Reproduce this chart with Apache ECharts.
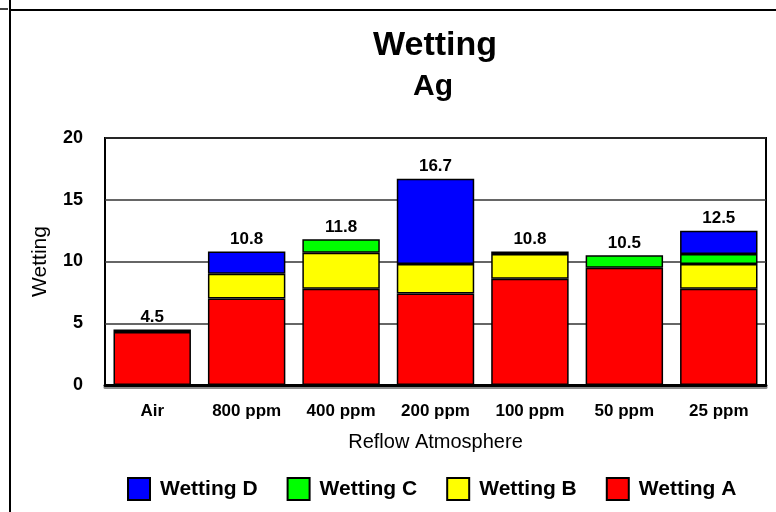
<!DOCTYPE html>
<html>
<head>
<meta charset="utf-8">
<script src="https://cdn.jsdelivr.net/npm/echarts@6/dist/echarts.min.js"></script>
<style>
  html, body { margin: 0; padding: 0; background: #fff; }
  #chart { width: 776px; height: 512px; }
</style>
</head>
<body>
<div id="chart"></div>
<script>
// Reflow atmospheres on the category axis
const categories = ['Air', '800 ppm', '400 ppm', '200 ppm', '100 ppm', '50 ppm', '25 ppm'];

// Stacked wetting components (bottom to top)
const wettingA = [4.3, 7.0, 7.8, 7.4, 8.6, 9.5, 7.8];
const wettingB = [0.2, 2.0, 2.9, 2.4, 2.0, 0, 2.0];
const wettingC = [0, 0, 1.1, 0, 0.2, 1.0, 0.8];
const wettingD = [0, 1.8, 0, 6.9, 0, 0, 1.9];

// Value axis ticks
const yTicks = [0, 5, 10, 15, 20];

const seriesNames = ['Wetting A', 'Wetting B', 'Wetting C', 'Wetting D'];
const seriesColors = ['#ff0000', '#ffff00', '#00ff00', '#0000ff'];
const seriesValues = [wettingA, wettingB, wettingC, wettingD];

// Stack totals shown above each bar
const totals = categories.map((_, i) =>
  Math.round(seriesValues.reduce((s, arr) => s + arr[i], 0) * 10) / 10
);

const chart = echarts.init(document.getElementById('chart'), null, { renderer: 'canvas' });

const barSeries = seriesNames.map((name, k) => ({
  name: name,
  type: 'bar',
  stack: 'wetting',
  barCategoryGap: '18%',
  itemStyle: { color: seriesColors[k], borderColor: '#000', borderWidth: 1.5 },
  data: seriesValues[k].map(v => (v === 0 ? '-' : v))
}));

chart.setOption({
  animation: false,
  backgroundColor: '#fff',
  grid: {
    left: 105, right: 10, top: 138, bottom: 127,
    show: true, borderColor: '#000', borderWidth: 2, backgroundColor: 'transparent'
  },
  legend: {
    data: ['Wetting D', 'Wetting C', 'Wetting B', 'Wetting A'],
    left: 122, top: 472,
    icon: 'rect',
    itemWidth: 22, itemHeight: 22, itemGap: 29,
    textStyle: { fontFamily: 'Liberation Sans, Arial', fontWeight: 'bold', fontSize: 21, color: '#000', padding: [0, 0, 0, 5] }
  },
  xAxis: {
    type: 'category',
    data: categories,
    name: 'Reflow Atmosphere',
    nameLocation: 'middle',
    nameGap: 47,
    nameTextStyle: { fontFamily: 'Liberation Sans, Arial', fontSize: 20, color: '#000' },
    axisLine: { lineStyle: { color: '#000', width: 3, shadowColor: 'rgba(0,0,0,0.45)', shadowOffsetY: 2 } },
    axisTick: { show: false },
    axisLabel: { fontFamily: 'Liberation Sans, Arial', fontWeight: 'bold', fontSize: 17, color: '#000', margin: 18 }
  },
  yAxis: {
    type: 'value',
    min: yTicks[0], max: yTicks[yTicks.length - 1], interval: yTicks[1] - yTicks[0],
    name: 'Wetting',
    nameLocation: 'middle',
    nameGap: 54,
    nameTextStyle: { fontFamily: 'Liberation Sans, Arial', fontSize: 21, color: '#000' },
    axisLine: { show: false },
    axisTick: { show: false },
    axisLabel: { fontFamily: 'Liberation Sans, Arial', fontWeight: 'bold', fontSize: 18, color: '#000', margin: 22 },
    splitLine: { lineStyle: { color: '#333', width: 1.5 } }
  },
  series: barSeries.concat([{
    name: 'Total',
    type: 'scatter',
    data: totals.map((v, i) => [categories[i], v]),
    symbolSize: 1,
    itemStyle: { color: 'rgba(0,0,0,0)', opacity: 1 },
    silent: true,
    z: 5,
    label: {
      show: true, position: 'top', distance: 3,
      formatter: p => totals[p.dataIndex].toFixed(1),
      fontFamily: 'Liberation Sans, Arial', fontWeight: 'bold', fontSize: 17, color: '#000'
    }
  }]),
  graphic: [
    { type: 'line', shape: { x1: 10, y1: 0, x2: 10, y2: 512 }, style: { stroke: '#000', lineWidth: 2 } },
    { type: 'line', shape: { x1: 10, y1: 10, x2: 776, y2: 10 }, style: { stroke: '#000', lineWidth: 2 } },
    { type: 'line', shape: { x1: 0, y1: 9, x2: 8, y2: 9 }, style: { stroke: '#000', lineWidth: 1.5 } },
    { type: 'text', x: 435, y: 46, style: { text: 'Wetting', fill: '#000', font: 'bold 34px "Liberation Sans", Arial', textAlign: 'center', textVerticalAlign: 'middle' } },
    { type: 'text', x: 433, y: 87, style: { text: 'Ag', fill: '#000', font: 'bold 30px "Liberation Sans", Arial', textAlign: 'center', textVerticalAlign: 'middle' } }
  ]
});
</script>
</body>
</html>
